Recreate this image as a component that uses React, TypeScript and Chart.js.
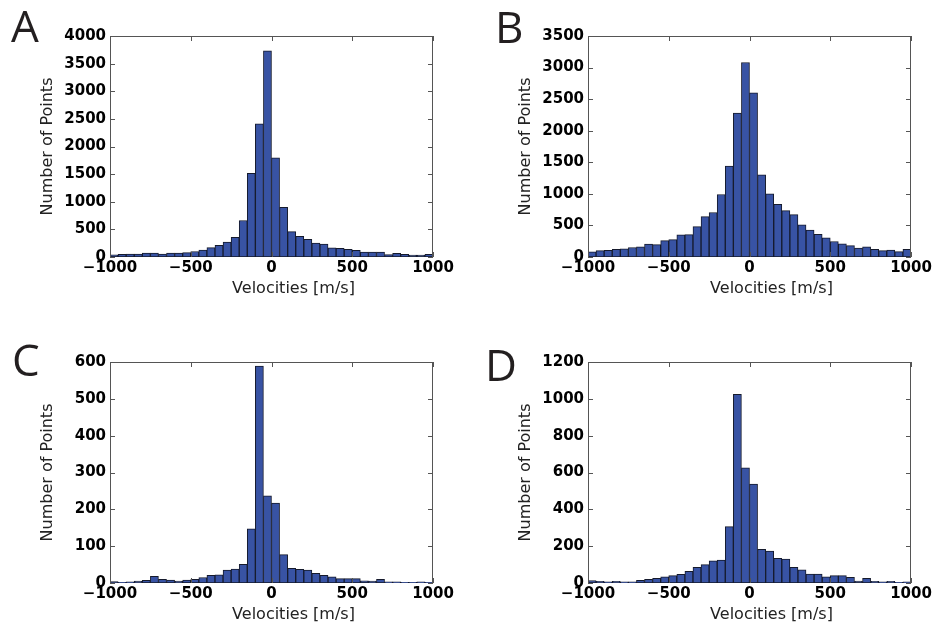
import { useEffect, useRef } from "react";
import { Chart, registerables } from "chart.js";

Chart.register(...registerables);

// Histogram bin centres (bin width 50 m/s)
const BIN_CENTERS = [
  -975, -925, -875, -825, -775, -725, -675, -625, -575, -525,
  -475, -425, -375, -325, -275, -225, -175, -125, -75, -25,
  25, 75, 125, 175, 225, 275, 325, 375, 425, 475,
  525, 575, 625, 675, 725, 775, 825, 875, 925, 975,
];

const COUNTS_A = [
  40, 50, 55, 55, 70, 70, 55, 70, 70, 80,
  100, 125, 170, 210, 270, 355, 660, 1515, 2410, 3730,
  1795, 900, 460, 375, 320, 250, 235, 165, 155, 140,
  120, 90, 90, 90, 45, 65, 50, 35, 35, 50,
];

const COUNTS_B = [
  80, 100, 105, 120, 130, 150, 160, 205, 195, 260,
  275, 350, 355, 480, 640, 705, 990, 1440, 2280, 3080,
  2600, 1300, 1000, 835, 735, 670, 510, 425, 360, 305,
  245, 210, 180, 140, 160, 120, 100, 110, 85, 120,
];

const COUNTS_C = [
  4, 2, 3, 5, 7, 18, 10, 8, 5, 8,
  10, 15, 21, 22, 35, 38, 51, 147, 589, 237,
  217, 77, 40, 37, 35, 26, 21, 17, 12, 12,
  12, 6, 5, 10, 3, 3, 2, 2, 3, 2,
];

const COUNTS_D = [
  13, 9, 6, 9, 6, 6, 14, 20, 25, 34,
  40, 47, 63, 85, 100, 121, 125, 306, 1024, 625,
  537, 183, 174, 134, 130, 85, 71, 49, 49, 33,
  40, 40, 31, 11, 25, 9, 6, 9, 4, 7,
];

const X_TICKS_STEP = 500;
const Y_LIMITS = [4000, 3500, 600, 1200];
const Y_STEPS = [500, 500, 100, 200];
const LETTERS = ["A", "B", "C", "D"];
const X_TITLE = "Velocities [m/s]";
const Y_TITLE = "Number of Points";

const BAR_FILL = "#3853a4";
const BAR_EDGE = "#151a2c";
const FRAME = "#555555";

const CANVAS_W = 459;
const CANVAS_H = 300;

const PANELS = [
  { counts: COUNTS_A, left: 0, top: 0, letterX: 11, letterY: 42 },
  { counts: COUNTS_B, left: 478, top: 0, letterX: 17, letterY: 43 },
  { counts: COUNTS_C, left: 0, top: 326, letterX: 12, letterY: 50 },
  { counts: COUNTS_D, left: 478, top: 326, letterX: 7, letterY: 55 },
];

const decorPlugin = {
  id: "decor",
  beforeDatasetsDraw(chart: any) {
    const { ctx, chartArea } = chart;
    const { left, right, top, bottom } = chartArea;
    ctx.save();
    ctx.strokeStyle = FRAME;
    ctx.lineWidth = 1;
    ctx.strokeRect(left + 0.5, top + 0.5, right - left - 1, bottom - top - 1);
    ctx.restore();
  },
  afterDatasetsDraw(chart: any, _args: any, opts: any) {
    const { ctx, chartArea } = chart;
    const { left, right, top, bottom } = chartArea;
    const xs = chart.scales.x;
    const ys = chart.scales.y;
    ctx.save();
    // side and top frame lines on top of bars
    ctx.strokeStyle = FRAME;
    ctx.lineWidth = 1;
    ctx.beginPath();
    ctx.moveTo(left + 0.5, bottom);
    ctx.lineTo(left + 0.5, top + 0.5);
    ctx.lineTo(right - 0.5, top + 0.5);
    ctx.lineTo(right - 0.5, bottom);
    ctx.stroke();
    // inward ticks on all four sides
    const TL = 5;
    ctx.beginPath();
    xs.ticks.forEach((t: any) => {
      const p = Math.round(xs.getPixelForValue(t.value)) + 0.5;
      ctx.moveTo(p, bottom);
      ctx.lineTo(p, bottom - TL);
      ctx.moveTo(p, top);
      ctx.lineTo(p, top + TL);
    });
    ys.ticks.forEach((t: any) => {
      const p = Math.round(ys.getPixelForValue(t.value)) + 0.5;
      ctx.moveTo(left, p);
      ctx.lineTo(left + TL, p);
      ctx.moveTo(right, p);
      ctx.lineTo(right - TL, p);
    });
    ctx.stroke();

    // panel letter
    ctx.fillStyle = "#231f20";
    ctx.font = "400 44px 'Open Sans'";
    ctx.textAlign = "left";
    ctx.textBaseline = "alphabetic";
    ctx.fillText(opts.letter, opts.letterX, opts.letterY);

    // axis titles
    ctx.fillStyle = "#222222";
    ctx.font = "16px 'DejaVu Sans'";
    ctx.textAlign = "center";
    ctx.textBaseline = "middle";
    ctx.fillText(X_TITLE, (left + right) / 2 + 22, bottom + 32);
    ctx.save();
    ctx.translate(48, (top + bottom) / 2);
    ctx.rotate(-Math.PI / 2);
    ctx.fillText(Y_TITLE, 0, 0);
    ctx.restore();
    ctx.restore();
  },
};

const fmt = (v: number) => (v < 0 ? "\u2212" + Math.abs(v) : String(v));

function Panel({ idx }: { idx: number }) {
  const ref = useRef<HTMLCanvasElement>(null);
  const cfg = PANELS[idx];
  useEffect(() => {
    const tickFont = { family: "'DejaVu Sans'", weight: "bold" as const, size: 15 };
    const chart = new Chart(ref.current!, {
      type: "bar",
      data: {
        datasets: [
          {
            data: BIN_CENTERS.map((x, i) => ({ x, y: cfg.counts[i] })),
            backgroundColor: BAR_FILL,
            borderColor: BAR_EDGE,
            borderWidth: 1,
            borderSkipped: false,
            barPercentage: 1,
            categoryPercentage: 1,
          },
        ],
      },
      options: {
        animation: false,
        responsive: false,
        events: [],
        layout: { padding: { top: 36, right: 26, left: 0, bottom: 0 } },
        plugins: {
          legend: { display: false },
          tooltip: { enabled: false },
          decor: { letter: LETTERS[idx], letterX: cfg.letterX, letterY: cfg.letterY },
        } as any,
        scales: {
          x: {
            type: "linear",
            min: -1000,
            max: 1000,
            offset: false,
            grid: { display: false, drawTicks: false },
            border: { display: false },
            ticks: {
              stepSize: X_TICKS_STEP,
              autoSkip: false,
              maxRotation: 0,
              padding: 2,
              color: "#000",
              font: tickFont,
              callback: (v: any) => fmt(Number(v)),
            },
            afterFit: (s: any) => {
              s.height = 43;
            },
          },
          y: {
            min: 0,
            max: Y_LIMITS[idx],
            grid: { display: false, drawTicks: false },
            border: { display: false },
            ticks: {
              stepSize: Y_STEPS[idx],
              autoSkip: false,
              padding: 4,
              color: "#000",
              font: tickFont,
              callback: (v: any) => fmt(Number(v)),
            },
            afterFit: (s: any) => {
              s.width = 110;
            },
          },
        },
      },
      plugins: [decorPlugin],
    } as any);
    return () => chart.destroy();
  }, []);
  return (
    <div style={{ position: "absolute", left: cfg.left, top: cfg.top, width: CANVAS_W, height: CANVAS_H }}>
      <canvas ref={ref} width={CANVAS_W} height={CANVAS_H} style={{ width: CANVAS_W, height: CANVAS_H, display: "block" }} />
    </div>
  );
}

export default function App() {
  return (
    <div style={{ position: "fixed", left: 0, top: 0, width: 937, height: 626, background: "#fff" }}>
      {PANELS.map((_, i) => (
        <Panel key={i} idx={i} />
      ))}
    </div>
  );
}
